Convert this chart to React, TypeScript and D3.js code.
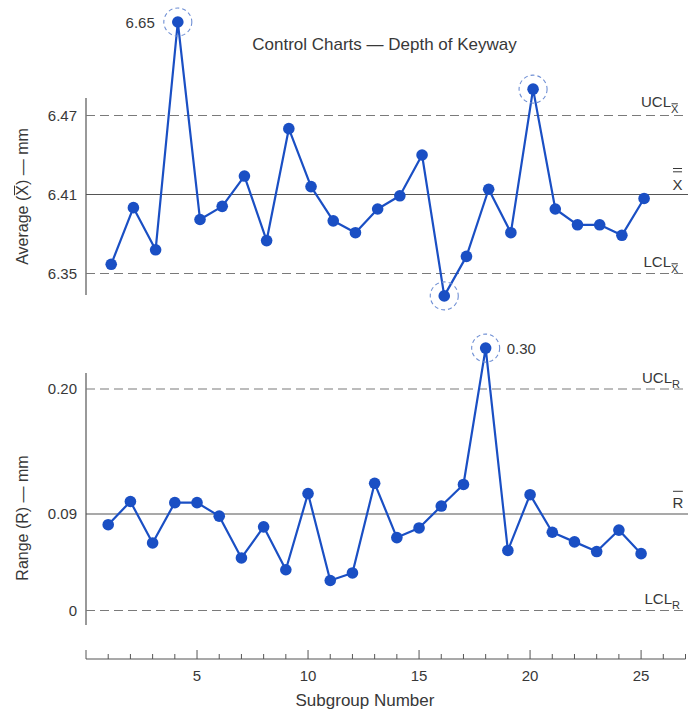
import React, { useRef, useEffect } from 'react';
import * as d3 from 'd3';

// subgroup numbers along the shared x axis
const subgroups = [1, 2, 3, 4, 5, 6, 7, 8, 9, 10, 11, 12, 13, 14, 15, 16, 17, 18, 19, 20, 21, 22, 23, 24, 25];

// subgroup averages (plotted positions; point 4 is drawn off-scale, annotated 6.65)
const averageValues = [
  6.357, 6.400, 6.368, 6.541, 6.391, 6.401, 6.424, 6.375, 6.460, 6.416,
  6.390, 6.381, 6.399, 6.409, 6.440, 6.333, 6.363, 6.414, 6.381, 6.490,
  6.399, 6.387, 6.387, 6.379, 6.407,
];

// subgroup ranges (point 18 is drawn off-scale, annotated 0.30)
const rangeValues = [
  0.080, 0.101, 0.063, 0.100, 0.100, 0.088, 0.049, 0.078, 0.038, 0.108,
  0.028, 0.035, 0.117, 0.068, 0.077, 0.097, 0.116, 0.236, 0.056, 0.107,
  0.073, 0.064, 0.055, 0.075, 0.053,
];

// control limits [LCL, centre, UCL]
const averageLimits = [6.35, 6.41, 6.47];
const rangeLimits = [0, 0.09, 0.20];
const averageTickLabels = ['6.35', '6.41', '6.47'];
const rangeTickLabels = ['0', '0.09', '0.20'];

const xTicks = [0, 1, 2, 3, 4, 5, 6, 7, 8, 9, 10, 11, 12, 13, 14, 15, 16, 17, 18, 19, 20, 21, 22, 23, 24, 25, 26, 27];
const xTickLabels = [5, 10, 15, 20, 25];

// out-of-control points
const averageFlagged = [4, 16, 20];
const rangeFlagged = [18];
const averageNotes = [{ subgroup: 4, label: '6.65' }];
const rangeNotes = [{ subgroup: 18, label: '0.30' }];

const BLUE = '#1a4fc4';
const TEXT = '#383838';
const AXIS = '#555';
const FONT = '"Liberation Sans", Arial, sans-serif';

export default function App() {
  const svgRef = useRef(null);

  useEffect(() => {
    const svg = d3.select(svgRef.current);
    svg.selectAll('*').remove();

    const x = d3.scaleLinear().domain([0, 27]).range([86, 685.5]);
    const yTop = d3.scaleLinear().domain(averageLimits).range([273.5, 194.5, 115.5]);
    const yBot = d3.scaleLinear().domain(rangeLimits).range([610.5, 514, 389]);

    const addText = (g, px, py, str, size, anchor = 'start') =>
      g.append('text')
        .attr('x', px).attr('y', py)
        .attr('font-family', FONT).attr('font-size', size)
        .attr('fill', TEXT).attr('text-anchor', anchor)
        .text(str);

    // bar over one character of a text element
    const overline = (g, textSel, yOff, index = 0) => {
      const box = textSel.node().getExtentOfChar(index);
      g.append('line')
        .attr('x1', box.x + 0.5).attr('x2', box.x + box.width - 0.5)
        .attr('y1', box.y + yOff).attr('y2', box.y + yOff)
        .attr('stroke', TEXT).attr('stroke-width', 1);
    };

    // title
    addText(svg, 384.5, 50, 'Control Charts \u2014 Depth of Keyway', 17, 'middle');

    function drawPanel(opts) {
      const { y, values, limits, tickLabels, axisTop, axisBottom, flagged, notes, shift } = opts;
      const g = svg.append('g');
      const px = s => x(s) + shift;

      // y axis line
      g.append('line')
        .attr('x1', 86).attr('x2', 86)
        .attr('y1', axisTop).attr('y2', axisBottom)
        .attr('stroke', AXIS).attr('stroke-width', 1.2);

      // limit lines
      limits.forEach((v, i) => {
        g.append('line')
          .attr('x1', 86).attr('x2', 688)
          .attr('y1', y(v)).attr('y2', y(v))
          .attr('stroke', i === 1 ? AXIS : '#7a7a7a')
          .attr('stroke-width', 1.1)
          .attr('stroke-dasharray', i === 1 ? null : '9,5');
        addText(g, 77, y(v), tickLabels[i], 15, 'end').attr('dy', '0.35em');
      });

      // series line
      const line = d3.line().x((d, i) => px(subgroups[i])).y(d => y(d));
      g.append('path')
        .attr('d', line(values))
        .attr('fill', 'none')
        .attr('stroke', BLUE)
        .attr('stroke-width', 2.2)
        .attr('stroke-linejoin', 'round');

      g.selectAll('circle.pt')
        .data(values)
        .enter()
        .append('circle')
        .attr('class', 'pt')
        .attr('cx', (d, i) => px(subgroups[i]))
        .attr('cy', d => y(d))
        .attr('r', 5.8)
        .attr('fill', BLUE);

      // dashed rings on out-of-control points
      flagged.forEach(s => {
        g.append('circle')
          .attr('cx', px(s)).attr('cy', y(values[s - 1]))
          .attr('r', 14)
          .attr('fill', 'none')
          .attr('stroke', '#6f8fd4')
          .attr('stroke-width', 1.1)
          .attr('stroke-dasharray', '4,3');
      });

      notes.forEach(n => n.draw(g, px(n.subgroup), y(values[n.subgroup - 1])));
      return g;
    }

    // ---- top: averages ----
    const top = drawPanel({
      y: yTop, values: averageValues, limits: averageLimits, tickLabels: averageTickLabels,
      axisTop: 98, axisBottom: 295, flagged: averageFlagged, shift: 3,
      notes: averageNotes.map(n => ({
        ...n,
        draw: (g, cx, cy) => addText(g, cx - 23, cy + 6, n.label, 15, 'end'),
      })),
    });

    // right-hand limit labels, top
    addText(top, 671, 107, 'UCL', 15, 'end');
    const uSub = addText(top, 671, 113, 'X', 11);
    overline(top, uSub, 0.8);
    const xx = addText(top, 672.5, 189.5, 'X', 15);
    overline(top, xx, -3.7);
    overline(top, xx, -7);
    addText(top, 671, 267, 'LCL', 15, 'end');
    const lSub = addText(top, 671, 273, 'X', 11);
    overline(top, lSub, 0.8);

    // y title, top
    const tg = svg.append('g').attr('transform', 'translate(28,196.5) rotate(-90)');
    const tt = tg.append('text')
      .attr('font-family', FONT).attr('font-size', 16)
      .attr('fill', TEXT).attr('text-anchor', 'middle')
      .text('Average (X) \u2014 mm');
    overline(tg, tt, 0.5, 9);

    // ---- bottom: ranges ----
    const bot = drawPanel({
      y: yBot, values: rangeValues, limits: rangeLimits, tickLabels: rangeTickLabels,
      axisTop: 373, axisBottom: 625, flagged: rangeFlagged, shift: 0,
      notes: rangeNotes.map(n => ({
        ...n,
        draw: (g, cx, cy) => addText(g, cx + 21, cy + 6, n.label, 15, 'start'),
      })),
    });

    addText(bot, 672, 383, 'UCL', 15, 'end');
    addText(bot, 672, 388, 'R', 11);
    const rb = addText(bot, 672.5, 508, 'R', 15);
    overline(bot, rb, -2.7);
    addText(bot, 672, 604, 'LCL', 15, 'end');
    addText(bot, 672, 609, 'R', 11);

    const bg = svg.append('g').attr('transform', 'translate(28,518) rotate(-90)');
    bg.append('text')
      .attr('font-family', FONT).attr('font-size', 16)
      .attr('fill', TEXT).attr('text-anchor', 'middle')
      .text('Range (R) \u2014 mm');

    // ---- shared x axis ----
    const ax = svg.append('g');
    ax.append('line')
      .attr('x1', 86).attr('x2', x(27))
      .attr('y1', 659).attr('y2', 659)
      .attr('stroke', AXIS).attr('stroke-width', 1.2);
    ax.selectAll('line.tick')
      .data(xTicks)
      .enter()
      .append('line')
      .attr('class', 'tick')
      .attr('x1', d => x(d)).attr('x2', d => x(d))
      .attr('y1', 659)
      .attr('y2', d => (d % 5 === 0 ? 650 : 654))
      .attr('stroke', AXIS).attr('stroke-width', 1);
    xTickLabels.forEach(t => addText(ax, x(t), 681, String(t), 15, 'middle'));
    addText(ax, 365, 706, 'Subgroup Number', 17, 'middle');
  }, []);

  return (
    <svg
      ref={svgRef}
      width={688}
      height={712}
      style={{ position: 'absolute', left: 0, top: 0, background: '#fff' }}
    />
  );
}
